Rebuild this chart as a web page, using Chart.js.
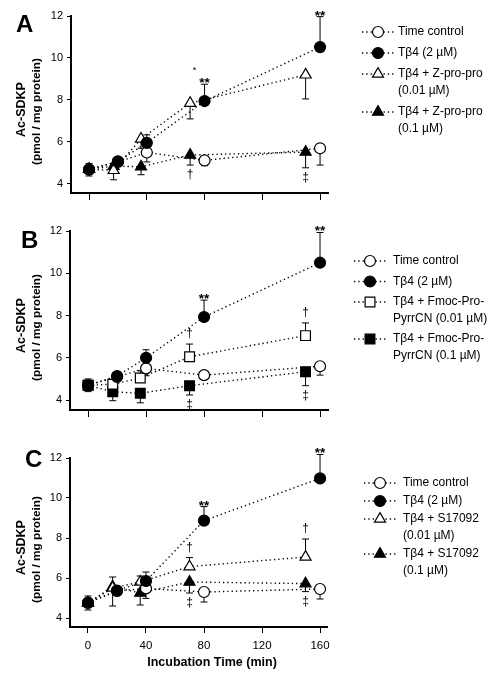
<!DOCTYPE html>
<html>
<head>
<meta charset="utf-8">
<script src="https://cdn.jsdelivr.net/npm/chart.js@4/dist/chart.umd.min.js"></script>
<style>
  html, body { margin: 0; padding: 0; background: #fff; }
  body { width: 498px; height: 678px; overflow: hidden; position: relative; }
  canvas { position: absolute; left: 0; }
</style>
</head>
<body>
<canvas id="cA" width="498" height="212" style="top:0px"></canvas>
<canvas id="cB" width="498" height="213" style="top:212px"></canvas>
<canvas id="cC" width="498" height="253" style="top:425px"></canvas>
<script>
// ---------- data ----------
const xTickValues = [0, 40, 80, 120, 160];
const xTickLabels = ['0', '40', '80', '120', '160'];
const yTickValues = [4, 6, 8, 10, 12];
const yTickLabels = ['4', '6', '8', '10', '12'];
const refTimes = [0, 20, 40, 80, 160];   // time control and Tβ4
const drugTimes = [0, 17, 36, 70, 150];  // inhibitor groups (plotted slightly offset)

// Panel A
const namesA = [['Time control'], ['Tβ4 (2 µM)'], ['Tβ4 + Z-pro-pro', '(0.01 µM)'], ['Tβ4 + Z-pro-pro', '(0.1 µM)']];
const aCtrl = [4.7, 5.05, 5.5, 5.12, 5.7];
const aCtrlErr = [0, 0, -0.45, -0.25, -0.8];
const aTb4 = [4.68, 5.08, 5.96, 7.95, 10.52];
const aTb4Err = [[0.3, -0.3], 0, 0.38, 0.8, 1.45];
const aLow = [4.7, 4.65, 6.15, 7.85, 9.2];
const aLowErr = [0, -0.45, -0.45, -0.75, -1.15];
const aHigh = [4.7, 4.85, 4.82, 5.38, 5.52];
const aHighErr = [0, 0, -0.38, -0.48, -0.75];
const aTb4Sig = ['', '', '', '**', '**'];
const aHighSig = ['', '', '', '†', '‡'];

// Panel B
const namesB = [['Time control'], ['Tβ4 (2 µM)'], ['Tβ4 + Fmoc-Pro-', 'PyrrCN (0.01 µM)'], ['Tβ4 + Fmoc-Pro-', 'PyrrCN (0.1 µM)']];
const bCtrl = [4.7, 5.1, 5.5, 5.18, 5.6];
const bCtrlErr = [0, 0, -0.35, 0, -0.42];
const bTb4 = [4.7, 5.14, 6.0, 7.93, 10.5];
const bTb4Err = [[0.3, -0.3], 0, 0.38, 0.8, 1.43];
const bLow = [4.7, 4.75, 5.04, 6.05, 7.05];
const bLowErr = [0, 0, 0.35, 0.6, 0.6];
const bHigh = [4.7, 4.39, 4.32, 4.68, 5.34];
const bHighErr = [0, -0.42, -0.45, -0.44, -0.66];
const bTb4Sig = ['', '', '', '**', '**'];
const bLowSig = ['', '', '', '†', '†'];
const bHighSig = ['', '', '', '‡', '‡'];

// Panel C
const namesC = [['Time control'], ['Tβ4 (2 µM)'], ['Tβ4 + S17092', '(0.01 µM)'], ['Tβ4 + S17092', '(0.1 µM)']];
const cCtrl = [4.75, 5.35, 5.48, 5.3, 5.45];
const cCtrlErr = [0, 0, -0.5, -0.5, -0.5];
const cTb4 = [4.77, 5.37, 5.85, 8.87, 10.98];
const cTb4Err = [[0.33, -0.37], 0, 0.45, 0.7, 1.2];
const cLow = [4.75, 5.5, 5.8, 6.57, 7.05];
const cLowErr = [0, 0, 0.3, 0.45, 0.9];
const cHigh = [4.75, 5.57, 5.25, 5.8, 5.72];
const cHighErr = [0, [0.48, -0.97], -0.6, -0.55, -0.4];
const cTb4Sig = ['', '', '', '**', '**'];
const cLowSig = ['', '', '', '†', '†'];
const cHighSig = ['', '', '', '‡', '‡'];

// ---------- drawing ----------
const FONT = "Arial, 'Liberation Sans', Helvetica, sans-serif";
Chart.defaults.font.family = FONT;
Chart.defaults.color = '#000';

function marker(style, fill) { return { style, fill }; }
const mCtrl = marker('circle', '#fff');
const mTb4 = marker('circle', '#000');

function radiusFor(style) { return style === 'circle' ? 5.5 : (style === 'triangle' ? 6.4 : 6.9); }

function drawMarker(ctx, m, x, y) {
  ctx.save();
  ctx.fillStyle = m.fill;
  ctx.strokeStyle = '#000';
  ctx.lineWidth = 1.2;
  ctx.setLineDash([]);
  Chart.helpers.drawPoint(ctx, { pointStyle: m.style, radius: radiusFor(m.style), rotation: 0, borderWidth: 1.2 }, x, y);
  ctx.restore();
}

const panelPlugin = {
  id: 'panelDeco',
  beforeDatasetsDraw(chart) {
    const cfg = chart.options.plugins.panelDeco;
    const ctx = chart.ctx;
    const ys = chart.scales.y;
    ctx.save();
    ctx.strokeStyle = '#000';
    ctx.lineWidth = 1;
    ctx.setLineDash([]);
    cfg.series.forEach((s, i) => {
      const meta = chart.getDatasetMeta(i);
      s.err.forEach((e, j) => {
        const list = Array.isArray(e) ? e : [e];
        const pt = meta.data[j];
        list.forEach(d => {
          if (!d) return;
          const yEnd = ys.getPixelForValue(s.y[j] + d);
          ctx.beginPath();
          ctx.moveTo(pt.x, pt.y);
          ctx.lineTo(pt.x, yEnd);
          ctx.moveTo(pt.x - 3.5, yEnd);
          ctx.lineTo(pt.x + 3.5, yEnd);
          ctx.stroke();
        });
      });
    });
    ctx.restore();
  },
  afterDraw(chart) {
    const cfg = chart.options.plugins.panelDeco;
    const ctx = chart.ctx;
    const ca = chart.chartArea;
    const ys = chart.scales.y;
    const xs = chart.scales.x;
    ctx.save();
    ctx.fillStyle = '#000';
    // significance marks
    cfg.series.forEach((s, i) => {
      if (!s.sig) return;
      const meta = chart.getDatasetMeta(i);
      s.sig.forEach((t, j) => {
        if (!t) return;
        const pt = meta.data[j];
        const list = Array.isArray(s.err[j]) ? s.err[j] : [s.err[j]];
        const up = Math.max(0, ...list);
        const dn = Math.min(0, ...list);
        ctx.textAlign = 'center';
        ctx.textBaseline = 'alphabetic';
        if (up > 0 || dn === 0) {
          const capY = up > 0 ? ys.getPixelForValue(s.y[j] + up) : pt.y - 6;
          if (t === '**') {
            ctx.font = 'bold 13.5px ' + FONT;
            ctx.fillText(t, pt.x, capY + 3);
          } else {
            ctx.font = '12px ' + FONT;
            ctx.fillText(t, pt.x, capY - 7);
          }
        } else {
          const capY = ys.getPixelForValue(s.y[j] + dn);
          ctx.font = '12px ' + FONT;
          ctx.fillText(t, pt.x, capY + 13);
        }
      });
    });
    // extra data-space notes
    (cfg.notes || []).forEach(n => {
      ctx.font = '9px ' + FONT;
      ctx.textAlign = 'center';
      ctx.fillText(n.text, xs.getPixelForValue(n.x), ys.getPixelForValue(n.y));
    });
    // panel letter
    ctx.font = 'bold 24px ' + FONT;
    ctx.textAlign = 'left';
    ctx.textBaseline = 'alphabetic';
    ctx.fillText(cfg.letter, cfg.letterX, cfg.letterY);
    // y axis title (two lines)
    const cy = (ca.top + ca.bottom) / 2 + 3;
    ctx.save();
    ctx.translate(22, cy);
    ctx.rotate(-Math.PI / 2);
    ctx.textAlign = 'center';
    ctx.textBaseline = 'middle';
    ctx.font = 'bold 12.5px ' + FONT;
    ctx.fillText('Ac-SDKP', -2, 0);
    ctx.font = 'bold 11.8px ' + FONT;
    ctx.fillText('(pmol / mg protein)', -4, 15);
    ctx.restore();
    // x axis title
    if (cfg.xTitle) {
      ctx.font = 'bold 12.5px ' + FONT;
      ctx.textAlign = 'center';
      ctx.textBaseline = 'middle';
      ctx.fillText(cfg.xTitle, 212, cfg.xTitleY);
    }
    // legend
    const lg = cfg.legend;
    let y = lg.y;
    cfg.series.forEach((s) => {
      ctx.save();
      ctx.strokeStyle = '#000';
      ctx.lineWidth = 1.3;
      ctx.setLineDash([1.3, 3]);
      ctx.beginPath();
      ctx.moveTo(lg.x - 16, y);
      ctx.lineTo(lg.x + 16, y);
      ctx.stroke();
      ctx.restore();
      drawMarker(ctx, s.m, lg.x, y);
      ctx.font = '12px ' + FONT;
      ctx.textAlign = 'left';
      ctx.textBaseline = 'middle';
      ctx.fillStyle = '#000';
      s.name.forEach((line, k) => {
        ctx.fillText(line, lg.textX, y + k * lg.lineH);
      });
      y += (s.name.length - 1) * lg.lineH + lg.gap;
    });
    ctx.restore();
  }
};

function makePanel(id, cfg) {
  const datasets = cfg.series.map((s, i) => ({
    label: s.name.join(' '),
    data: s.x.map((x, j) => ({ x: x, y: s.y[j] })),
    showLine: true,
    borderColor: '#000',
    borderWidth: 1.4,
    borderDash: [1.3, 3],
    pointStyle: s.m.style,
    pointRadius: radiusFor(s.m.style),
    pointHoverRadius: radiusFor(s.m.style),
    pointBackgroundColor: s.m.fill,
    pointBorderColor: '#000',
    pointBorderWidth: 1.2,
    fill: false,
    tension: 0,
    order: s.order,
    clip: false
  }));
  new Chart(document.getElementById(id), {
    type: 'scatter',
    data: { datasets },
    options: {
      responsive: false,
      animation: false,
      devicePixelRatio: 1,
      layout: { padding: { top: cfg.padTop, right: cfg.padRight, left: 0, bottom: 0 } },
      plugins: { legend: { display: false }, tooltip: { enabled: false }, panelDeco: cfg },
      scales: {
        x: {
          type: 'linear', min: cfg.xMin, max: cfg.xMax,
          afterBuildTicks: s => { s.ticks = xTickValues.map(v => ({ value: v })); },
          afterFit: s => { s.height = cfg.xH; },
          border: { display: true, color: '#000', width: 2 },
          grid: { display: true, drawOnChartArea: false, drawTicks: true, tickLength: cfg.xTickLen, color: '#000', lineWidth: 1 },
          ticks: {
            color: '#000', font: { size: 11.5 }, padding: 6, maxRotation: 0, autoSkip: false,
            callback: v => cfg.showXLabels ? xTickLabels[xTickValues.indexOf(v)] : ''
          }
        },
        y: {
          type: 'linear', min: cfg.yMin, max: 12,
          afterBuildTicks: s => { s.ticks = yTickValues.map(v => ({ value: v })); },
          afterFit: s => { s.width = cfg.yW; },
          border: { display: true, color: '#000', width: 2 },
          grid: { display: true, drawOnChartArea: false, drawTicks: true, tickLength: 4, color: '#000', lineWidth: 1 },
          ticks: {
            color: '#000', font: { size: 11 }, padding: 4,
            callback: v => yTickLabels[yTickValues.indexOf(v)]
          }
        }
      }
    },
    plugins: [panelPlugin]
  });
}

makePanel('cA', {
  letter: 'A', letterX: 16, letterY: 32,
  padTop: 16, padRight: 170, xH: 19, yW: 71, xTickLen: 7, showXLabels: false,
  xMin: -12.5, xMax: 165.5, yMin: 3.57,
  legend: { x: 378, textX: 398, y: 32, lineH: 17, gap: 21 },
  notes: [{ x: 73, y: 9.3, text: '*' }],
  series: [
    { name: namesA[0], x: refTimes, y: aCtrl, err: aCtrlErr, m: mCtrl, order: 1 },
    { name: namesA[1], x: refTimes, y: aTb4, err: aTb4Err, m: mTb4, sig: aTb4Sig, order: 0 },
    { name: namesA[2], x: drugTimes, y: aLow, err: aLowErr, m: marker('triangle', '#fff'), order: 2 },
    { name: namesA[3], x: drugTimes, y: aHigh, err: aHighErr, m: marker('triangle', '#000'), sig: aHighSig, order: 3 }
  ]
});

makePanel('cB', {
  letter: 'B', letterX: 21, letterY: 36,
  padTop: 19, padRight: 170, xH: 15, yW: 70, xTickLen: 7, showXLabels: false,
  xMin: -12.5, xMax: 165.5, yMin: 3.53,
  legend: { x: 370, textX: 393, y: 49, lineH: 16.5, gap: 20.5 },
  series: [
    { name: namesB[0], x: refTimes, y: bCtrl, err: bCtrlErr, m: mCtrl, order: 1 },
    { name: namesB[1], x: refTimes, y: bTb4, err: bTb4Err, m: mTb4, sig: bTb4Sig, order: 0 },
    { name: namesB[2], x: drugTimes, y: bLow, err: bLowErr, m: marker('rect', '#fff'), sig: bLowSig, order: 2 },
    { name: namesB[3], x: drugTimes, y: bHigh, err: bHighErr, m: marker('rect', '#000'), sig: bHighSig, order: 3 }
  ]
});

makePanel('cC', {
  letter: 'C', letterX: 25, letterY: 42,
  padTop: 33, padRight: 171, xH: 51, yW: 70, xTickLen: 6, showXLabels: true,
  xTitle: 'Incubation Time (min)', xTitleY: 238,
  xMin: -12.4, xMax: 164.8, yMin: 3.55,
  legend: { x: 380, textX: 403, y: 58, lineH: 17, gap: 18 },
  series: [
    { name: namesC[0], x: refTimes, y: cCtrl, err: cCtrlErr, m: mCtrl, order: 1 },
    { name: namesC[1], x: refTimes, y: cTb4, err: cTb4Err, m: mTb4, sig: cTb4Sig, order: 0 },
    { name: namesC[2], x: drugTimes, y: cLow, err: cLowErr, m: marker('triangle', '#fff'), sig: cLowSig, order: 2 },
    { name: namesC[3], x: drugTimes, y: cHigh, err: cHighErr, m: marker('triangle', '#000'), sig: cHighSig, order: 3 }
  ]
});
</script>
</body>
</html>
